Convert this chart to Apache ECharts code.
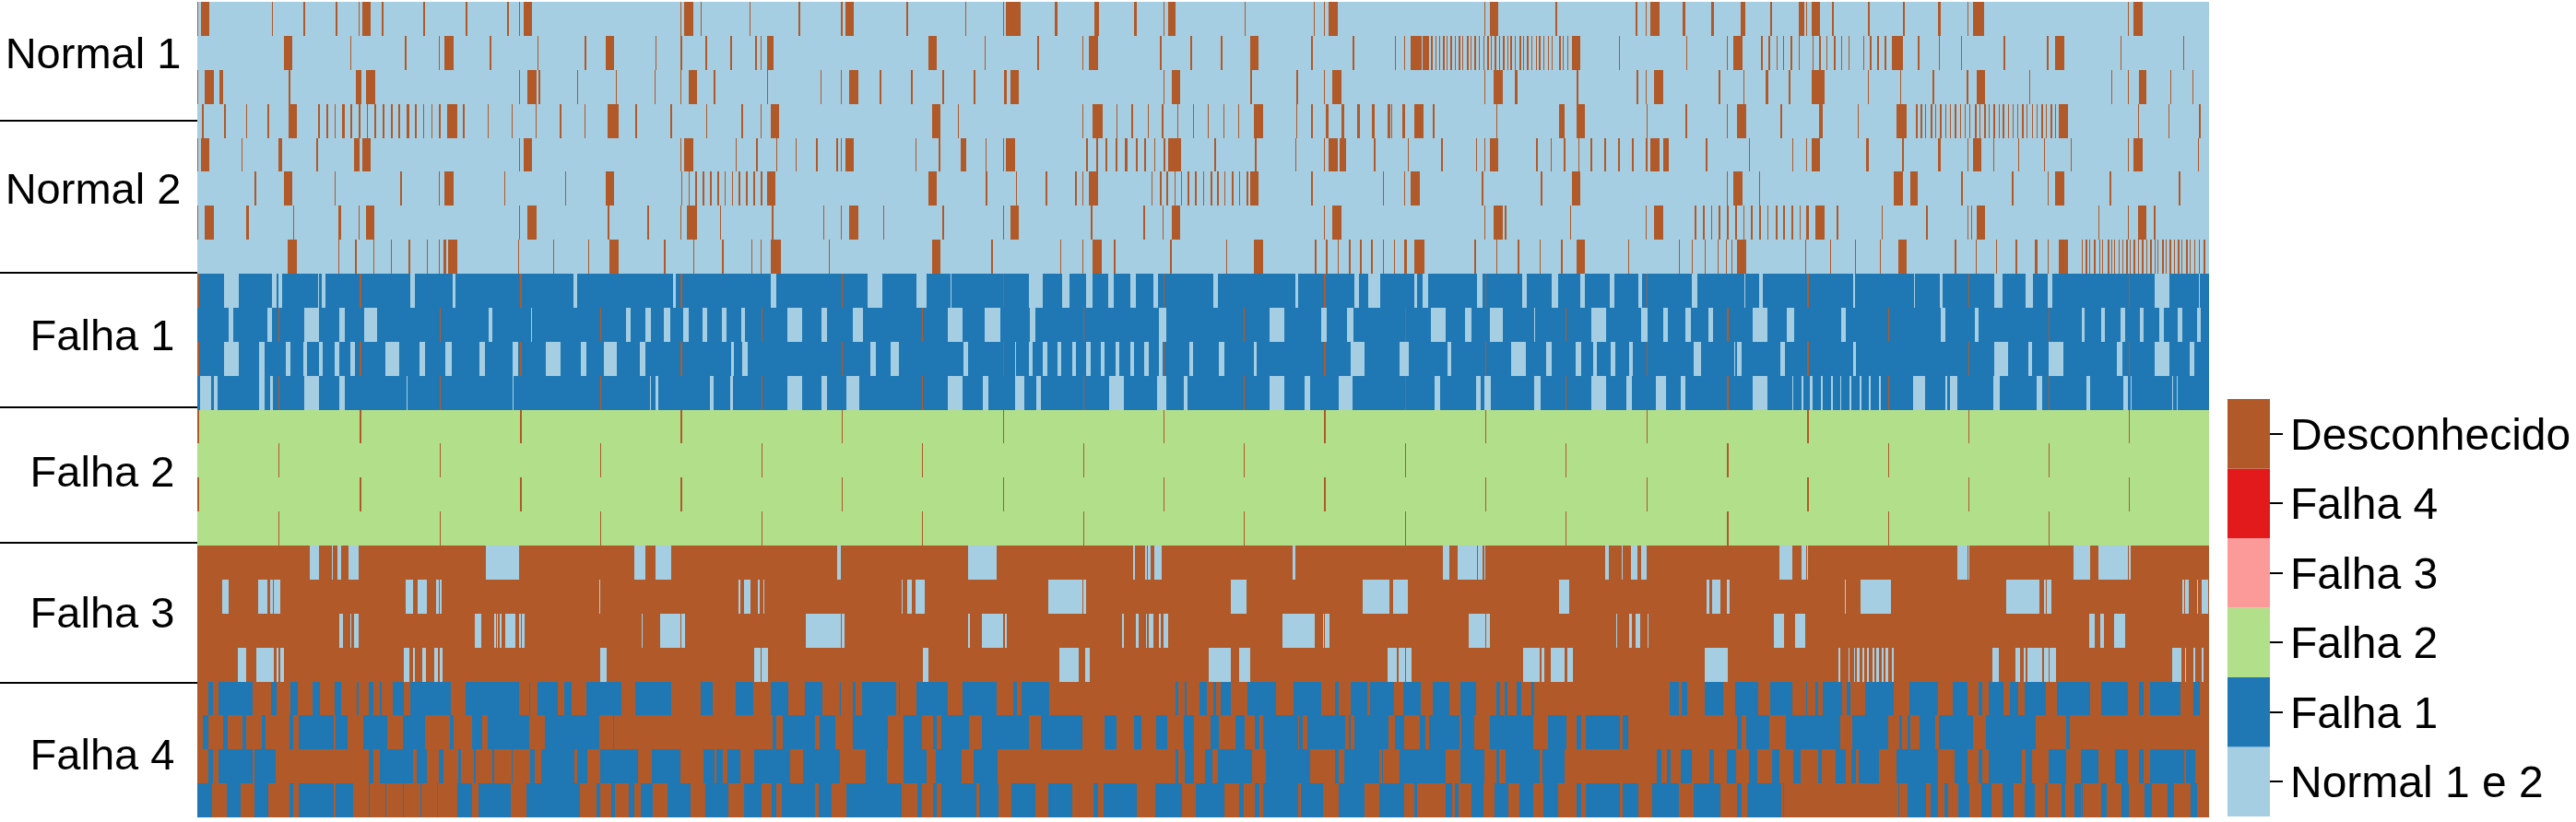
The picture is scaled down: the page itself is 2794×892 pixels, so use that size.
<!DOCTYPE html>
<html><head><meta charset="utf-8">
<style>html,body{margin:0;padding:0;background:#fff}#c{width:2794px;height:892px}</style>
<script src="https://cdn.jsdelivr.net/npm/echarts@6/dist/echarts.min.js"></script>
</head><body><div id="c"></div>
<script>
// States in the legend, bottom to top
const states = ['Normal 1 e 2','Falha 1','Falha 2','Falha 3','Falha 4','Desconhecido'];
const stateColors = ['#A6CEE3','#1F78B4','#B2DF8A','#FB9A99','#E31A1C','#B15928'];
const groupLabels = ['Normal 1','Normal 2','Falha 1','Falha 2','Falha 3','Falha 4'];
const groupLabelRows = [1.6,5.6,9.9,13.9,18.05,22.25];
const groupDividers = [3.5,7.97,11.93,15.92,20.04];
// Dominant state of each of the 24 rows
const rowBase = [0,0,0,0,0,0,0,0,1,1,1,1,2,2,2,2,5,5,5,5,5,5,5,5];

// Stripes per row as flat start,end pairs along the sample axis
const r01 = [214,215,218,227,295,296,329,331,364,366,389,390,393,402,414,416,459,461,505,507,550,552,563,564,568,577,738,739,742,752,760,761,813,814,866,868,912,914,917,926,983,985,1047,1048,1088,1089,1091,1101.5,1102.3,1107,1144,1147,1187,1192,1230,1233,1262,1263,1267,1275,1350,1351,1425,1426,1436,1437,1441,1451,1610,1611,1616,1625,1687,1689,1774,1776,1785,1786,1790,1800,1825,1828,1856,1859,1888,1893,1920,1922,1951,1957,1959,1960,1965,1974,1987,1989,2026,2028,2064,2066,2102,2105,2134,2135,2140,2149.5,2150.3,2151.5,2308,2309,2314,2324];
const r02 = [308,317,379.5,381,439,441,476,477,482,492,531,533,582.5,583.5,634,636,657,666,711,712,738,740,765,767,792,794,819,821,825,826,832,839,1007,1016,1068,1069,1125,1127,1174,1175,1181,1191,1258,1260,1291,1293,1324,1326,1356,1365,1422,1424,1467,1469,1513,1514,1523,1524,1530,1542,1543,1550,1552,1554,1556.5,1558,1561,1562,1565,1567,1569,1570,1573,1575,1578,1579,1582,1584,1586,1587,1591,1593,1595,1596,1599,1601,1604,1605,1608.5,1610,1613,1615,1617,1618,1621,1623,1626,1627,1630,1632,1634.5,1636,1638,1640,1643,1644,1648,1650,1652,1653,1656,1658,1661,1662,1665.5,1667,1669,1671,1674,1675,1678.5,1680,1683,1684,1691,1693,1695,1696,1699.6,1701,1705,1714,1756,1757,1829,1830,1872.5,1873.5,1880,1890,1910,1912,1918,1920,1927,1928,1934,1935,1942,1943.5,1950.5,1951.5,1966,1966.5,1973,1974.5,1981,1982,1989,1991,1997,1998,2005,2006,2020.5,2022,2028,2030,2036,2038,2044,2045.5,2052,2064,2080,2081.5,2102.5,2103.5,2127,2128,2173,2175,2220,2222,2229,2239,2300,2301,2368,2369];
const r03 = [214,215,222,232,238,242,312.5,315,386,392,397,407,563,564,572,582,583.5,586,626,627,668,669,710,711,738,739,747,756,774,776,832,833,890,891,912,913,921,931,954,956,988,990,1022,1024,1056,1058,1089,1092,1096,1105,1261.5,1262.5,1271,1280,1356,1358,1406,1408,1436,1437,1445,1455,1610,1611,1620,1630,1643,1646,1710,1712,1775,1777,1785,1786,1794,1804,1864,1866,1890.5,1891.5,1915,1918,1940,1942,1965,1979,2025.5,2027,2061,2062,2096,2098,2133,2135,2144,2153,2201,2202,2290,2291,2308,2309,2319.5,2328,2354,2355,2377.5,2379];
const r04 = [219,220.5,243,244.5,267,268,290,291.5,312.5,322,345,346.5,354,355.5,363,364,371,374,380,382,389,390.5,397.5,399,406,408,415,416.5,424,426,432,433.5,441,444,450,451.5,459,460,467.5,469,476,478,485,496,502,504,528.5,529.5,555,556,581,582,607,608.5,633.5,634.5,659,671,689,690.5,727,729,766,767,804,806,825,826,836,845,1011,1020,1039,1040,1174,1175,1185,1196,1211,1212,1227,1229,1244.5,1245,1260,1262,1277,1278,1294,1295,1310,1311,1327,1328,1343,1344,1360,1370,1405.5,1406.5,1422,1424,1438,1441,1455,1458,1472,1475,1488,1491,1505,1508,1509,1510,1520.5,1524,1534,1544,1554,1556,1623,1624,1691,1697,1710,1719,1785.5,1787,1828,1830,1872.5,1874,1884,1894,1931,1933,1973,1977,2015,2016,2057,2068,2078,2080,2083,2084.5,2088,2089,2094,2095.5,2099,2100,2104,2106,2109.5,2111,2115,2116,2120,2122,2126,2127,2130.5,2132,2136,2137,2142,2144,2147,2148,2152,2154,2157,2158,2162,2164,2167.5,2169,2172,2174,2178,2179,2182.6,2184,2188,2189,2193,2195,2198,2199,2204,2205,2208.6,2210,2214,2216,2219,2220,2224,2226,2229,2230,2233,2243,2319,2320,2352,2353,2385,2387];
const r05 = [214,215,218,227,261.5,262.5,302,306,343,344.5,384,390,393,402,563,564,568,577,738,739,742,752,798,799,820,822,842,843,863,864,885,887,907,909,912,913,917,926,993,994,1018,1020,1042,1048,1068.5,1069,1088,1089,1091,1101,1178,1180,1189,1191,1199,1201,1210,1212,1220,1223,1232,1233.5,1241,1243,1252,1253,1262,1264,1267,1281,1317,1319,1361,1363,1405,1406,1436,1437,1441,1451,1453,1460,1490,1492,1527,1528,1563,1565,1600.5,1602,1610,1611,1616,1625,1666,1668,1682,1683,1696,1698,1711.5,1712.5,1725,1727,1740,1742,1755,1757,1770,1772,1785,1787,1790,1800,1804,1810,1850,1852,1897,1898,1943.5,1945,1959,1960,1965,1974,2024,2027,2063,2065,2102,2104.5,2134,2135,2140,2149,2161.5,2163,2189,2190,2217,2218,2246,2246.5,2308,2309,2314,2324,2384,2385];
const r06 = [276,278,308,317,362.5,363,434,436,476,477,482,492,547,548,612.5,614,657,666,739,740,747,748,754,756,762,764,770,771.5,778,780,786,787,794,795,801,803,809,811,817,819,825,827,832,841,1007,1016,1069,1071,1102,1103,1134,1136,1166,1168,1174,1175,1181,1191,1249,1250,1258,1260,1265,1267,1273.5,1275,1281,1282,1288,1290,1296,1298,1304.5,1306,1313,1314.5,1320,1322,1328,1329,1336,1337.5,1343.5,1345,1352,1354,1356,1365,1422,1424,1500,1501,1523,1524,1530,1540,1607,1609,1671,1673,1705,1714,1872.5,1873.5,1880,1890,1908,1909,2054,2064,2072,2080,2127,2129,2182,2184,2221,2222,2229,2239,2288,2289.5,2363,2365];
const r07 = [214,215,222,232,267,270,317.5,319,367,370,389,390,397,406,563,564,572,582,659,661,702,704,738,739,745,756,781,782,837,839,893,894,912,913,921,931,958,959,1022,1024,1088,1089,1096,1105,1183,1185,1240,1242,1261,1262,1271,1280,1436,1437,1445,1455,1610,1611,1620,1630,1632,1634,1703,1704,1785,1786,1794,1804,1838,1840,1847,1849,1856,1857,1864,1866,1873,1875,1882,1884,1890.5,1891.5,1899,1901,1908,1909.5,1917,1918,1926,1927.5,1934,1936,1943,1945,1952,1953,1959,1962,1969,1979,1992,1994,2041,2042,2089,2091,2134,2135,2138,2139,2144,2153,2276,2277,2308,2309,2319,2328,2336,2338];
const r08 = [312,322,366.5,368,385,387,404.5,406,424,425,443,445,462.5,464,476,477,481,484,486,496,562,563,600,601,637.5,638.5,661,671,720,722,752,753,783,785,815,816,825,826,836,847,899,900,1011,1020,1075,1077,1150,1151,1174,1175,1185,1195,1208,1210,1269,1271,1330,1331,1360,1370,1426,1428,1438,1440,1451,1452,1463,1465,1475,1476.5,1487,1488.5,1500,1501,1512,1513,1523,1526,1534,1545,1599,1601,1623,1624,1646,1648,1670,1671,1693,1695,1710,1719,1766,1767,1821,1822,1835,1836,1849,1849.5,1863,1864,1872,1873,1877.5,1879,1884,1894,1958,1958.5,1985,1986,2012,2013,2039,2040,2059,2068,2120,2122,2142.5,2143.5,2165,2166,2186,2187.5,2207,2210,2221,2222,2233,2243,2258,2259,2262,2263.5,2266,2267,2271,2272.5,2276.5,2278,2280,2281,2286,2287.5,2289.5,2291,2293,2294,2297.5,2299,2302,2303,2306,2307.5,2310,2311,2314,2315.5,2319,2320,2323,2324.5,2328,2329,2332,2333.5,2336.6,2338,2340,2341,2345,2346.5,2349,2350,2353,2354.5,2358,2359,2362,2363.5,2366,2367,2371,2372.5,2375,2376,2379.5,2381,2385,2386,2390,2391.5];
// Falha 1 rows: stripes of state Normal
const r09 = [243,259,295,299.5,302,306,345,345.5,349,353,445,450,491,494,622,626,730,733,836,842,941,957,994,1005,1031,1032,1116,1131,1152,1160,1178,1185,1202,1208,1226,1232,1251,1256,1316,1321,1405,1408,1469,1474,1484,1497,1534,1537,1543,1549,1602,1608,1651,1656,1683,1690,1714,1719,1746,1751,1777,1781,1835,1841,1891.5,1893,1908,1912,2010,2012,2076,2076.5,2104,2107,2163,2172,2197,2205,2221,2226,2337,2353,2384.5,2385];
const r10 = [248,253,290,295,330,346,368,374,395,409,530,534,576,576.5,678.5,684,700,706,720,727,741,747,762,767,783,788,804,808,854,870,891,897,925,936,1028,1044,1068,1085,1117,1123,1257,1265,1377,1393,1433,1439,1461,1468,1552,1568,1589,1595.5,1616,1630,1664,1665,1726,1742,1780,1787,1804,1809,1828,1834,1852.5,1858,1901,1917,1938,1946,1997,2002,2105,2110,2142,2146,2258,2261,2279,2283,2300,2304.5,2321,2325,2342,2346.5,2362,2367,2383,2387];
const r11 = [243,259,281,286.5,310,315,328.5,332.5,345.5,350,363,368,380,385,418,433,455,461,483,490,520,526,556,562,592,608,630,636,655,669,694,700,793,796,805,811,944,950,966,975,1045,1050,1101,1102,1116,1120,1131,1136,1147,1151,1163,1167,1178,1183,1194,1198,1210,1214,1226,1230,1241,1246,1257,1260.5,1290,1294,1322,1328,1360,1363,1465,1480,1518,1528,1570,1574,1639,1655,1677,1683,1709,1715,1728,1732,1747,1752,1767,1771,1837,1845,1881,1882,1884,1889,1931,1936,2010,2013,2163,2178,2200,2204,2222,2238,2296,2302,2337,2353,2375,2380];
const r12 = [216.5,229,232,236,281,286.5,292.5,295.5,330,346,368,374,440.5,441,556,557,705,706,711,714,770,774,792,795,854,870,891,897,918,932,1028,1044,1066,1072,1101,1111,1124,1129,1203,1219,1255,1265,1284,1288,1377,1393,1415,1421,1452,1467,1556,1562,1601,1606,1610,1617,1664,1671,1726,1742,1764,1770,1796,1807,1823,1828,1901,1917,1944,1945,1954,1956,1963,1966,1975,1977,1986,1988,1996,1997,2006,2008,2017,2019,2027,2029,2038,2040,2075,2088,2110,2112,2115,2123,2162,2169,2209,2215,2263,2264.5,2265,2267,2303,2308,2311,2312,2355.5,2356,2361,2361.5];
// Short Desconhecido marks shared by Falha 1 and Falha 2 rows
const marksOdd = [214,216,390,392,564,566,738,740,912.5,914,1087.5,1089,1261.5,1263,1436,1438,1610.5,1612,1785.5,1787,1960,1961.5,2134.5,2136,2308.5,2310];
const marksEven = [301.5,302.5,476.5,478,651,652,825.5,826.5,1000,1001,1174.5,1176,1349,1350,1523.5,1525,1698,1699,1872.5,1874.5,2047.5,2048.5,2221.5,2223];
// Falha 3 rows: stripes of state Normal
const r17 = [336,346,360,361,366,370,378,389,527,563,688,700,711,728,908,912,1050,1081,1229,1231,1242,1244,1245,1248,1252,1260,1402,1405,1565,1572,1581,1602,1603,1608,1610,1611,1741,1745,1759,1760,1769,1776,1780,1786,1930,1944,1954,1959,1960,1960.5,2123,2134,2135,2136,2249,2267,2276,2308,2308.5,2311];
const r18 = [241,248,280,290,293,295.5,296.5,304,440,448,453,463,473,476,477,479,649.5,651,801,803,807,814,822,824,828,829,978,979,984,989,993,1003,1137,1174,1175,1178,1335,1352,1478,1507,1511,1523.5,1524,1527,1691,1702,1851,1854,1857,1866,1873,1876,2001,2002,2018,2051,2176,2212,2217,2219,2220,2221.5,2222,2225,2367,2369,2370,2374,2383,2384,2388,2395];
const r19 = [368,372,380,381,384,389,515,522,536,538,539,540,541.5,544,548,559,563,565,566,569,695.5,697,716,738,739,743,874,912,913,916,1050,1052,1065,1088,1090,1092,1217,1219,1232,1235,1243,1244,1246,1251,1257,1259,1262,1267,1391,1426,1435,1436,1437,1442,1593,1611,1611.5,1616,1753,1754,1767,1770,1774,1775.5,1776,1779,1787,1788,1924,1935,1947,1958,2266,2272,2278,2282,2293,2305];
const r20 = [258,267,278,297,300,302,304,308,438,444,448,450,458,462,471,474.5,477,480,651,658,818,825,826,833,1001,1007,1149,1170,1177,1182,1311,1335,1344,1356,1505,1515,1517,1523.5,1524.5,1531,1652,1670,1672,1675,1682,1697,1700,1706,1849,1872.5,1873,1874,1994,1996,2005,2006,2011,2012,2014,2017,2020,2022,2025,2027,2031,2033,2035,2038,2041,2043,2045,2048,2052,2054,2161,2168,2186,2191,2195,2197,2199,2215,2217,2222,2222.5,2230,2356,2366,2370,2371,2379,2381,2388,2390];
// Falha 4 rows: stripes of state Falha 1
const r21 = [225.5,231,237,274,294,300,315,323,339,347,363,370,387,389,400,405,412,414,426,438,445,489,505,563,574,575,583,605,612,620,636,674,689,728,760,773,798,817,836,855,873,892,911,912,925,928,935,972,975,976,994,1028,1044,1081,1099,1103,1108,1138,1275,1278,1285,1287,1301,1309,1316,1319,1324,1335,1353,1384,1403,1433,1448,1452,1465,1483,1486,1512,1522,1541,1554,1572,1584,1601,1623,1627,1632,1635,1645,1650,1661,1664,1811,1821,1824,1830,1849,1869,1882,1907,1920,1944,1959,1959.5,1969,1972,1977,1998,2003,2007,2023,2054,2071,2102,2118,2134,2146,2150,2157,2173,2180,2189,2196,2219,2231,2267,2279,2308,2320,2325,2332,2365,2379,2386];
const r22 = [220,226,242,247,263,267,284,288,314,318,324,362,364,377,394,420,437,461,488,492,512,523,529,574,591,650,664.5,665.5,838,842,849,884,889,906,925,963,980,1000,1012,1016,1021,1051,1065,1116,1129,1174,1198,1211,1230,1238,1254,1266,1284,1295,1313,1322,1340,1350,1361,1366,1370,1408,1409,1413,1418,1459,1463,1465,1469,1506,1513,1523,1540,1546,1550,1583,1585,1599,1616,1663,1679,1699,1710,1715,1720,1757,1760,1766,1884,1889,1894,1919,1937,1996,2009,2048,2060,2063,2069,2072,2082,2099,2103,2140,2154,2208,2241,2245];
const r23 = [225.5,231,237,274,276,299,400,405,412,448,452,463,476,481,497,500,514,516,533.5,536,555,556,574.5,580,587,623,625.5,637,650.5,691.5,707,738,763,775,777,784,789,803,818,857,871,911,939,962,980,1005,1015,1043,1056,1082,1275,1278,1285,1295,1307,1315,1321,1358,1373,1421,1448,1452,1458,1496,1498.5,1500,1517.5,1568,1584,1610,1623,1626,1633,1670,1673,1697,1797,1801.5,1808,1812,1823,1835,1854,1859,1873,1883,1897,1906,1922,1930,1945,1953,1972,1976,1991,2002,2008,2013,2016,2038,2057,2102,2120,2134,2146,2150,2157,2193,2197,2204,2222,2241,2257,2276,2294,2308,2320,2325,2332,2369,2371,2381];
const r24 = [214,230,246,261,276,291,314,317.5,324,362,364,383,399.5,400,418,418.5,437,437.5,456,456.5,474,474.5,496,512,519,554,571,629,646.5,651,663,666.5,681.5,688,695,708,724,749,764.5,790,807,826,837,842,848,884,888,902,918,978,995,1000,1012,1016,1021,1059,1062,1083,1097,1123,1137,1163,1186,1191,1197,1233,1253,1282,1297,1328,1344,1349,1361,1366,1370,1408,1411,1435,1452,1480,1496,1523,1534,1536.5,1568,1575,1578,1582,1596,1609,1621,1636,1648,1663,1674,1690,1710,1715,1720,1757,1760,1777,1792,1821,1837,1866,1884,1889,1895,1932,1934,1935,2059,2060,2069,2089,2094,2102,2109,2113,2123.5,2136,2149,2160,2172,2184,2196,2207,2218,2221,2236,2239.5,2250,2257,2258,2259,2279,2285,2301,2309,2326,2334,2351,2358,2376,2383];

const stripeRows = [
  [r01,5],[r02,5],[r03,5],[r04,5],[r05,5],[r06,5],[r07,5],[r08,5],
  [r09,0],[r10,0],[r11,0],[r12,0],
  [marksOdd,5],[marksEven,5],[marksOdd,5],[marksEven,5],
  [r17,0],[r18,0],[r19,0],[r20,0],
  [r21,1],[r22,1],[r23,1],[r24,1]
];
const xMin = 214, xMax = 2396;
const runs = [];
rowBase.forEach((s,r) => runs.push([r,xMin,xMax,s]));
stripeRows.forEach(([list,s],r) => { for (let i=0;i<list.length;i+=2) runs.push([r,list[i],list[i+1],s]); });
// Falha 1 rows also carry the short Desconhecido marks
[[8,marksOdd],[9,marksEven],[10,marksOdd],[11,marksEven]].forEach(([r,list]) => {
  for (let i=0;i<list.length;i+=2) runs.push([r,list[i],list[i+1],5]);
});

const chart = echarts.init(document.getElementById('c'), null, {renderer:'canvas'});
const labelCentres = [101,101,111,111,111,111];
chart.setOption({
  animation:false,
  backgroundColor:'#fff',
  tooltip:{show:false},
  grid:[
    {left:214,top:2,width:2182,height:885},
    {left:2416,top:433,width:46,height:453}
  ],
  xAxis:[
    {gridIndex:0,type:'value',min:xMin,max:xMax,show:false},
    {gridIndex:1,type:'value',min:0,max:1,show:false}
  ],
  yAxis:[
    {gridIndex:0,type:'value',min:0,max:24,inverse:true,show:false},
    {gridIndex:1,type:'category',data:states,position:'right',
      axisLine:{show:false},axisTick:{show:false},axisLabel:{show:false}}
  ],
  series:[
    {type:'custom',xAxisIndex:0,yAxisIndex:0,silent:true,progressive:0,clip:false,
      encode:{x:[1,2],y:0},data:runs,
      renderItem:function(p,api){
        const r=api.value(0);
        const a=api.coord([api.value(1),r]), b=api.coord([api.value(2),r+1]);
        const x0=Math.round(a[0]), y0=Math.round(a[1]), y1=Math.round(b[1]);
        const x1=Math.max(Math.round(b[0]),x0+1);
        return {type:'rect',shape:{x:x0,y:y0,width:x1-x0,height:y1-y0},style:{fill:stateColors[api.value(3)]}};
      }},
    {type:'custom',xAxisIndex:0,yAxisIndex:0,silent:true,clip:false,
      encode:{y:0},data:groupDividers.map(v=>[v]),
      renderItem:function(p,api){
        const c=api.coord([xMin,api.value(0)]);
        const y=Math.round(c[1]);
        return {type:'line',shape:{x1:0,y1:y,x2:c[0],y2:y},style:{stroke:'#000',lineWidth:2}};
      }},
    {type:'custom',xAxisIndex:0,yAxisIndex:0,silent:true,clip:false,
      encode:{y:0},data:groupLabelRows.map((v,i)=>[v,labelCentres[i]]),
      renderItem:function(p,api){
        const c=api.coord([xMin,api.value(0)]);
        return {type:'text',style:{x:labelCentres[p.dataIndex],y:c[1],text:groupLabels[p.dataIndex],
          fill:'#000',font:'47px "Liberation Sans",Arial,sans-serif',align:'center',verticalAlign:'middle'}};
      }},
    {type:'bar',xAxisIndex:1,yAxisIndex:1,silent:true,barWidth:'100%',
      data:states.map((s,i)=>({value:1,itemStyle:{color:stateColors[i]}}))},
    {type:'custom',xAxisIndex:1,yAxisIndex:1,silent:true,clip:false,z:5,
      encode:{x:0,y:1},data:states.map((s,i)=>[1,i]),
      renderItem:function(p,api){
        const c=api.coord([1,api.value(1)]);
        const y=Math.round(c[1]);
        return {type:'group',children:[
          {type:'line',shape:{x1:c[0],y1:y,x2:c[0]+14,y2:y},style:{stroke:'#000',lineWidth:2}},
          {type:'text',style:{x:c[0]+22,y:y+4,text:states[p.dataIndex],fill:'#000',
            font:'48px "Liberation Sans",Arial,sans-serif',align:'left',verticalAlign:'middle'}}
        ]};
      }}
  ]
});
</script></body></html>
